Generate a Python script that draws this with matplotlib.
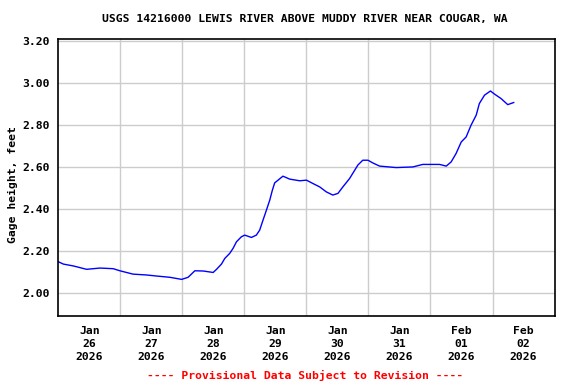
import matplotlib
matplotlib.use("Agg")
import matplotlib.pyplot as plt

# Hours since 2026-01-26 00:00 and gage height (feet)
hours = [0.0, 1.9, 5.8, 10.9, 16.1, 21.2, 23.8, 28.9, 34.1, 38.0, 43.1, 47.7,
         50.2, 52.8, 56.0, 59.9, 61.2, 63.1, 64.4, 66.3, 67.6, 68.9, 70.8,
         72.1, 74.7, 76.6, 77.9, 79.2, 80.5, 81.8, 82.8, 83.7, 85.0, 86.9,
         89.5, 93.4, 96.0, 98.5, 101.1, 103.7, 106.2, 108.2, 110.1, 112.7,
         115.9, 117.8, 119.8, 121.7, 124.3, 130.7, 137.2, 141.0, 147.5,
         150.1, 152.0, 153.9, 155.9, 157.8, 159.7, 161.7, 162.9, 164.9,
         167.2, 168.8, 171.3, 173.9, 176.2]
gage = [2.149, 2.138, 2.129, 2.113, 2.119, 2.116, 2.106, 2.090, 2.086, 2.081,
        2.075, 2.065, 2.075, 2.106, 2.105, 2.098, 2.113, 2.138, 2.165, 2.189,
        2.213, 2.244, 2.268, 2.276, 2.265, 2.276, 2.300, 2.348, 2.395, 2.443,
        2.490, 2.525, 2.538, 2.557, 2.543, 2.535, 2.538, 2.522, 2.506, 2.482,
        2.467, 2.475, 2.506, 2.546, 2.610, 2.633, 2.633, 2.620, 2.605, 2.598,
        2.601, 2.613, 2.613, 2.605, 2.625, 2.665, 2.720, 2.744, 2.800, 2.848,
        2.903, 2.943, 2.963, 2.948, 2.927, 2.898, 2.908]

day_labels = ["Jan\n26\n2026", "Jan\n27\n2026", "Jan\n28\n2026", "Jan\n29\n2026",
              "Jan\n30\n2026", "Jan\n31\n2026", "Feb\n01\n2026", "Feb\n02\n2026"]
y_ticks = [2.00, 2.20, 2.40, 2.60, 2.80, 3.00, 3.20]

title = "USGS 14216000 LEWIS RIVER ABOVE MUDDY RIVER NEAR COUGAR, WA"
ylabel = "Gage height, feet"
footer = "---- Provisional Data Subject to Revision ----"

plt.rcParams['font.family'] = ['DejaVu Sans Mono']
plt.rcParams['font.weight'] = 'bold'

fig = plt.figure(figsize=(5.76, 3.84), dpi=100)
ax = fig.add_axes([0.1014, 0.1771, 0.8613, 0.7206])

ax.plot(hours, gage, color='#0000ff', linewidth=1.0)

ax.set_xlim(0, 24 * len(day_labels))
ax.set_ylim(1.8905, 3.2095)

ax.set_xticks([24 * i for i in range(1, len(day_labels))], minor=True)
ax.set_xticks([12 + 24 * i for i in range(len(day_labels))])
ax.set_xticklabels(day_labels, fontsize=8.2, fontweight='bold', linespacing=1.4)
ax.set_yticks(y_ticks)
ax.set_yticklabels([f"{v:.2f}" for v in y_ticks], fontsize=8.2, fontweight='bold')

ax.tick_params(axis='both', which='both', length=0)
ax.tick_params(axis='y', pad=6)
ax.tick_params(axis='x', pad=7)

ax.grid(True, which='minor', axis='x', color='#cccccc', linewidth=1.0)
ax.grid(True, which='major', axis='y', color='#cccccc', linewidth=1.0)
ax.set_axisbelow(True)

for s in ax.spines.values():
    s.set_linewidth(1.2)
    s.set_color('black')

fig.text(0.53, 0.951, title, ha='center', va='center', fontsize=8.2, fontweight='bold')
fig.text(0.022, 0.52, ylabel, ha='center', va='center', rotation=90,
         fontsize=8.2, fontweight='bold')
fig.text(0.53, 0.023, footer, ha='center', va='center', fontsize=8.2,
         fontweight='bold', color='red')

fig.savefig("out.png", dpi=100)
